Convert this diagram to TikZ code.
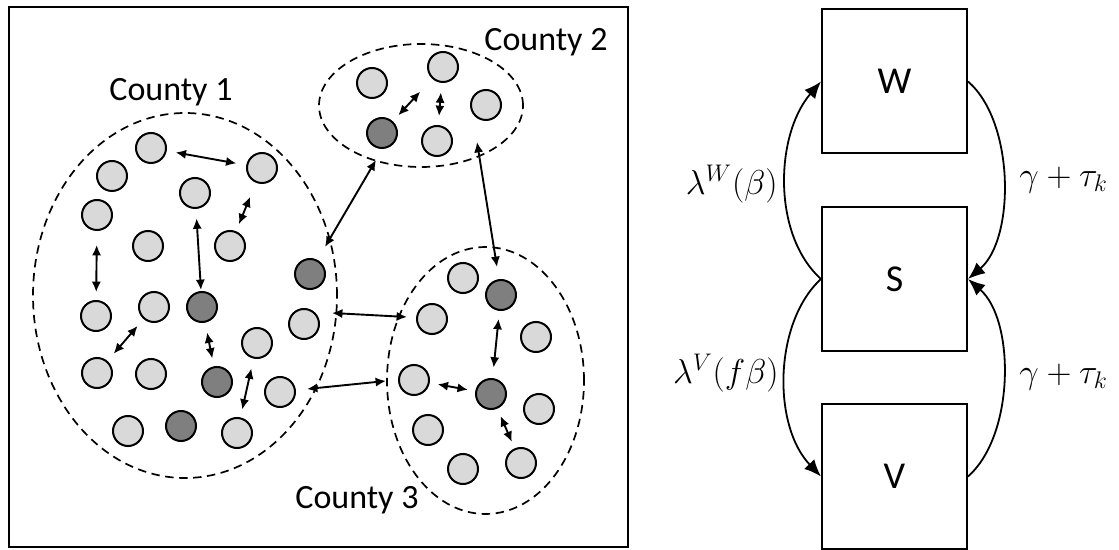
\documentclass[tikz,border=0pt]{standalone}
\usepackage{fontspec}
\setmainfont{Carlito}
\usetikzlibrary{arrows.meta,shapes.geometric}

\definecolor{dotlight}{HTML}{D9D9D9}
\definecolor{dotdark}{HTML}{7F7F7F}

\begin{document}
\begin{tikzpicture}[x=0.5pt,y=-0.5pt,
  person/.style={circle, draw=black, line width=1pt, fill=dotlight, minimum size=15pt, inner sep=0pt},
  carrier/.style={person, fill=dotdark},
  region/.style={ellipse, draw, dash pattern=on 4.2pt off 2.8pt, line width=0.85pt, inner sep=0pt},
  link/.style={{Latex[length=5.2pt,width=4.6pt]}-{Latex[length=5.2pt,width=4.6pt]}, line width=0.95pt},
  state/.style={draw, line width=1pt, minimum width=72.5pt, minimum height=72pt, inner sep=0pt, font=\fontsize{19}{22}\selectfont},
  flow/.style={-{Latex[length=8.5pt,width=7pt]}, line width=0.9pt},
  rate/.style={font=\fontsize{17.5}{20}\selectfont, inner sep=0pt},
  cname/.style={font=\fontsize{17}{20}\selectfont, inner sep=0pt}
]
\useasboundingbox (0,0) rectangle (1119,550);

% ---------- network panel ----------
\draw[line width=1pt] (9,7) rectangle (628,547);

\node[region, minimum width=152pt, minimum height=182.5pt] (cty1) at (185,295.5) {};
\node[region, minimum width=102pt, minimum height=61.5pt] (cty2) at (421,105.5) {};
\node[region, minimum width=98.5pt, minimum height=133.5pt] (cty3) at (485.5,380.5) {};

\node[cname] (lab1) at (171,92) {County 1};
\node[cname] (lab2) at (546,42) {County 2};
\node[cname] (lab3) at (357,500) {County 3};

% county 1
\node[person]  (p1)  at (151,148) {};
\node[person]  (p2)  at (262,168) {};
\node[person]  (p3)  at (112,176) {};
\node[person]  (p4)  at (195,193) {};
\node[person]  (p5)  at (97,215) {};
\node[person]  (p6)  at (148,246) {};
\node[person]  (p7)  at (230,246) {};
\node[carrier] (q1)  at (310,274) {};
\node[person]  (p8)  at (96,316) {};
\node[person]  (p9)  at (154,307) {};
\node[carrier] (q2)  at (202,307) {};
\node[person]  (p10) at (304,324) {};
\node[person]  (p11) at (257,343) {};
\node[person]  (p12) at (97,373) {};
\node[person]  (p13) at (151,374) {};
\node[carrier] (q3)  at (217,382) {};
\node[person]  (p14) at (280,392) {};
\node[person]  (p15) at (128,431) {};
\node[carrier] (q4)  at (181,426) {};
\node[person]  (p16) at (237,433) {};

% county 2
\node[person]  (r1) at (372,83) {};
\node[person]  (r2) at (443,67) {};
\node[person]  (r3) at (486,105) {};
\node[carrier] (s1) at (382,133) {};
\node[person]  (r4) at (437,141) {};

% county 3
\node[person]  (t1) at (463,278) {};
\node[carrier] (u1) at (501,295) {};
\node[person]  (t2) at (432,319) {};
\node[person]  (t3) at (536,337) {};
\node[person]  (t4) at (414,380) {};
\node[carrier] (u2) at (491,394) {};
\node[person]  (t5) at (539,409) {};
\node[person]  (t6) at (428,430) {};
\node[person]  (t7) at (521,463) {};
\node[person]  (t8) at (463,469) {};

% contacts inside counties
\draw[link, shorten <=4.5pt, shorten >=5pt]    (p1) -- (p2);
\draw[link, shorten <=7.5pt, shorten >=3.75pt] (p2) -- (p7);
\draw[link, shorten <=4.75pt, shorten >=0.5pt] (p4) -- (q2);
\draw[link, shorten <=7pt, shorten >=4pt]      (p5) -- (p8);
\draw[link, shorten <=4.5pt, shorten >=4.75pt] (p9) -- (p12);
\draw[link, shorten <=5pt, shorten >=4pt]      (q2) -- (q3);
\draw[link, shorten <=5pt, shorten >=4pt]      (p11) -- (p16);
\draw[link, shorten <=4pt, shorten >=8.75pt]   (s1) -- (r2);
\draw[link, shorten <=4.75pt, shorten >=4.5pt] (r2) -- (r4);
\draw[link, shorten <=4pt, shorten >=5.25pt]   (u1) -- (u2);
\draw[link, shorten <=4pt, shorten >=3.75pt]   (t4) -- (u2);
\draw[link, shorten <=4pt, shorten >=3.5pt]    (u2) -- (t7);

% contacts between counties
\coordinate (x1a) at (376,160); \coordinate (x1b) at (325,247);
\coordinate (x2a) at (477,142); \coordinate (x2b) at (497,267);
\coordinate (x3a) at (332,313); \coordinate (x3b) at (407,317);
\coordinate (x4a) at (307,389); \coordinate (x4b) at (386,381);
\draw[link] (x1a) -- (x1b);
\draw[link] (x2a) -- (x2b);
\draw[link] (x3a) -- (x3b);
\draw[link] (x4a) -- (x4b);

% ---------- compartment panel ----------
\node[state] (W) at (894.5,81.5) {W};
\node[state] (S) at (894.5,279) {S};
\node[state] (V) at (894.5,476.5) {V};

\draw[flow] (S.west) .. controls (772,235) and (775,135) .. (W.west);
\draw[flow] (W.east) .. controls (1015,122) and (1015,239) .. (S.east);
\draw[flow] (S.west) .. controls (774,322) and (772,425) .. (V.west);
\draw[flow] (V.east) .. controls (1015,435) and (1015,320) .. (S.east);

\node[rate, anchor=east] (lw) at (778,184) {$\lambda^{W}(\beta)$};
\node[rate, anchor=west] (gw) at (1019,180) {$\gamma+\tau_k$};
\node[rate, anchor=east] (lv) at (779,373) {$\lambda^{V}(f\beta)$};
\node[rate, anchor=west] (gv) at (1019,377) {$\gamma+\tau_k$};
\end{tikzpicture}
\end{document}
